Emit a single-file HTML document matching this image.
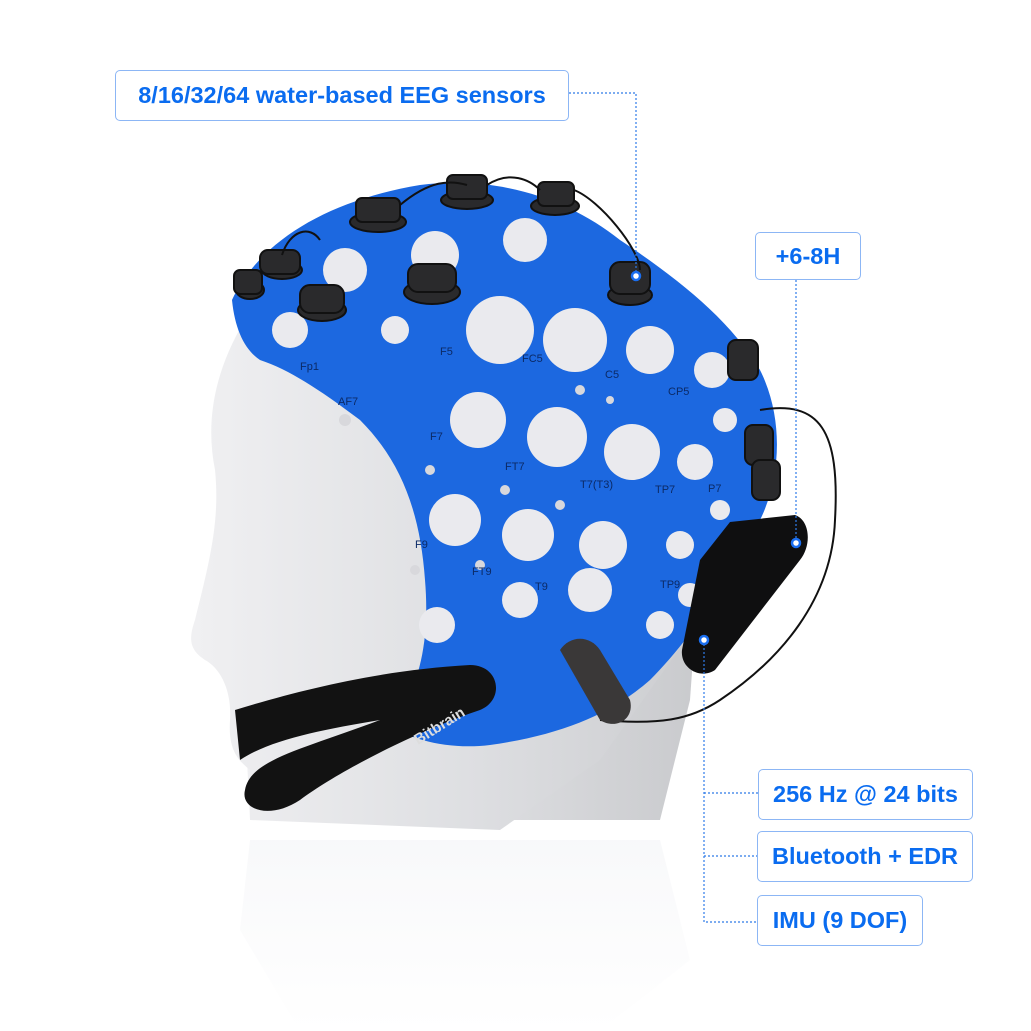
<!DOCTYPE html>
<html><head><meta charset="utf-8"><style>
html,body{margin:0;padding:0;background:#fff;}
#w{position:relative;width:1031px;height:1031px;overflow:hidden;background:#fff;font-family:"Liberation Sans",sans-serif;}
.b{position:absolute;border:1.5px solid #8cb6f5;border-radius:5px;background:#fff;color:#0a6cf0;font-weight:bold;font-size:23.5px;display:flex;align-items:center;justify-content:center;box-sizing:border-box;white-space:nowrap;}
svg{position:absolute;left:0;top:0;}
</style></head><body><div id="w">
<svg width="1031" height="1031" viewBox="0 0 1031 1031">
<defs>
<linearGradient id="hg" x1="0" y1="0" x2="1" y2="0"><stop offset="0" stop-color="#f0f0f2"/><stop offset=".5" stop-color="#dedfe2"/><stop offset="1" stop-color="#c9cacd"/></linearGradient>
<linearGradient id="rg" x1="0" y1="0" x2="0" y2="1"><stop offset="0" stop-color="#f1f2f5"/><stop offset="1" stop-color="#fff"/></linearGradient>
</defs>
<path d="M250 840 L660 840 L690 960 L600 1031 L300 1031 L240 930 Z" fill="url(#rg)" opacity=".5"/>
<path d="M240 620 L250 820 L660 820 L690 700 L700 560 L600 480 Z" fill="url(#hg)"/>
<path d="M245 320 C215 370 205 420 215 470 C220 520 210 560 195 620 C188 640 190 650 205 660 C220 668 232 690 230 720 C228 750 238 760 250 770 L250 820 L500 830 L600 760 L700 620 L740 420 L600 260 Z" fill="url(#hg)"/>
<path d="M232 300 C260 240 330 200 420 185 C500 175 570 200 620 240 C680 280 730 320 760 370 C785 420 780 480 760 520 C730 580 690 640 650 680 C610 715 560 735 490 745 C450 750 410 740 390 725 C420 690 430 640 425 580 C420 510 400 460 360 420 C320 390 290 370 260 360 C245 350 235 330 232 300 Z" fill="#1c68e0"/>
<g fill="#eaeaee">
<circle cx="478" cy="420" r="28"/><circle cx="557" cy="437" r="30"/><circle cx="632" cy="452" r="28"/><circle cx="695" cy="462" r="18"/>
<circle cx="455" cy="520" r="26"/><circle cx="528" cy="535" r="26"/><circle cx="603" cy="545" r="24"/><circle cx="680" cy="545" r="14"/>
<circle cx="500" cy="330" r="34"/><circle cx="575" cy="340" r="32"/><circle cx="650" cy="350" r="24"/><circle cx="712" cy="370" r="18"/>
<circle cx="437" cy="625" r="18"/><circle cx="520" cy="600" r="18"/><circle cx="590" cy="590" r="22"/><circle cx="660" cy="625" r="14"/><circle cx="690" cy="595" r="12"/>
<circle cx="435" cy="255" r="24"/><circle cx="525" cy="240" r="22"/><circle cx="345" cy="270" r="22"/><circle cx="290" cy="330" r="18"/><circle cx="395" cy="330" r="14"/>
<circle cx="725" cy="420" r="12"/><circle cx="720" cy="510" r="10"/>
</g>
<g fill="#d8d8dc"><circle cx="430" cy="470" r="5"/><circle cx="505" cy="490" r="5"/><circle cx="580" cy="390" r="5"/><circle cx="610" cy="400" r="4"/><circle cx="345" cy="420" r="6"/><circle cx="415" cy="570" r="5"/><circle cx="480" cy="565" r="5"/><circle cx="560" cy="505" r="5"/></g>
<g font-family="Liberation Sans,sans-serif" font-size="11" fill="#0b2a66">
<text x="300" y="370">Fp1</text><text x="338" y="405">AF7</text><text x="440" y="355">F5</text><text x="522" y="362">FC5</text><text x="605" y="378">C5</text><text x="668" y="395">CP5</text>
<text x="430" y="440">F7</text><text x="505" y="470">FT7</text><text x="580" y="488">T7(T3)</text><text x="655" y="493">TP7</text><text x="708" y="492">P7</text>
<text x="415" y="548">F9</text><text x="472" y="575">FT9</text><text x="535" y="590">T9</text><text x="660" y="588">TP9</text>
</g>
<g fill="#2a2a2c" stroke="#111" stroke-width="2">
<ellipse cx="378" cy="222" rx="28" ry="10"/><rect x="356" y="198" width="44" height="24" rx="6"/>
<ellipse cx="467" cy="200" rx="26" ry="9"/><rect x="447" y="175" width="40" height="24" rx="6"/>
<ellipse cx="555" cy="206" rx="24" ry="9"/><rect x="538" y="182" width="36" height="24" rx="6"/>
<ellipse cx="432" cy="292" rx="28" ry="12"/><rect x="408" y="264" width="48" height="28" rx="10"/>
<ellipse cx="322" cy="310" rx="24" ry="11"/><rect x="300" y="285" width="44" height="28" rx="10"/>
<ellipse cx="282" cy="270" rx="20" ry="9"/><rect x="260" y="250" width="40" height="24" rx="8"/>
<ellipse cx="250" cy="290" rx="14" ry="9"/><rect x="234" y="270" width="28" height="24" rx="6"/>
<ellipse cx="630" cy="295" rx="22" ry="10"/><rect x="610" y="262" width="40" height="32" rx="10"/>
<rect x="728" y="340" width="30" height="40" rx="8"/><rect x="745" y="425" width="28" height="40" rx="8"/><rect x="752" y="460" width="28" height="40" rx="8"/>
</g>
<g fill="none" stroke="#111" stroke-width="2">
<path d="M400 205 C430 180 450 180 467 185"/><path d="M487 185 C510 170 530 180 540 190"/><path d="M574 190 C600 200 640 250 640 270"/>
<path d="M760 410 C820 400 840 430 835 520 C832 600 780 660 720 700 C690 720 660 725 600 720"/>
<path d="M282 255 C290 230 310 225 320 240"/>
</g>
<path d="M730 522 L795 515 C810 520 812 545 800 560 L715 670 C700 680 680 668 682 650 L700 560 Z" fill="#0f0f10"/>
<path d="M560 650 C570 635 590 635 600 650 L630 700 C635 720 615 730 600 720 Z" fill="#3a3838"/>
<path d="M235 710 C300 690 380 670 470 665 C500 665 505 700 480 710 C420 730 340 770 300 800 C270 820 240 810 245 790 C250 760 300 750 380 720 C320 730 270 740 240 760 Z" fill="#121212"/>
<text x="418" y="745" transform="rotate(-32 418 745)" font-family="Liberation Sans,sans-serif" font-size="15" font-weight="bold" fill="#ddd">Bitbrain</text>
<g fill="none" stroke="#2f7be8" stroke-width="1.2" stroke-dasharray="2 2">
<path d="M569 93 H636 V276"/>
<path d="M796 280 V543"/>
<path d="M704 640 V922 H757"/><path d="M704 793 H758"/><path d="M704 856 H757"/>
</g>
<g fill="#fff" stroke="#1a6ef0" stroke-width="2.5"><circle cx="636" cy="276" r="4"/><circle cx="796" cy="543" r="4"/><circle cx="704" cy="640" r="4"/></g>
</svg>
<div class="b" style="left:115px;top:70px;width:454px;height:51px;">8/16/32/64 water-based EEG sensors</div>
<div class="b" style="left:755px;top:232px;width:106px;height:48px;">+6-8H</div>
<div class="b" style="left:758px;top:769px;width:215px;height:51px;">256 Hz @ 24 bits</div>
<div class="b" style="left:757px;top:831px;width:216px;height:51px;">Bluetooth + EDR</div>
<div class="b" style="left:757px;top:895px;width:166px;height:51px;">IMU (9 DOF)</div>
</div></body></html>
